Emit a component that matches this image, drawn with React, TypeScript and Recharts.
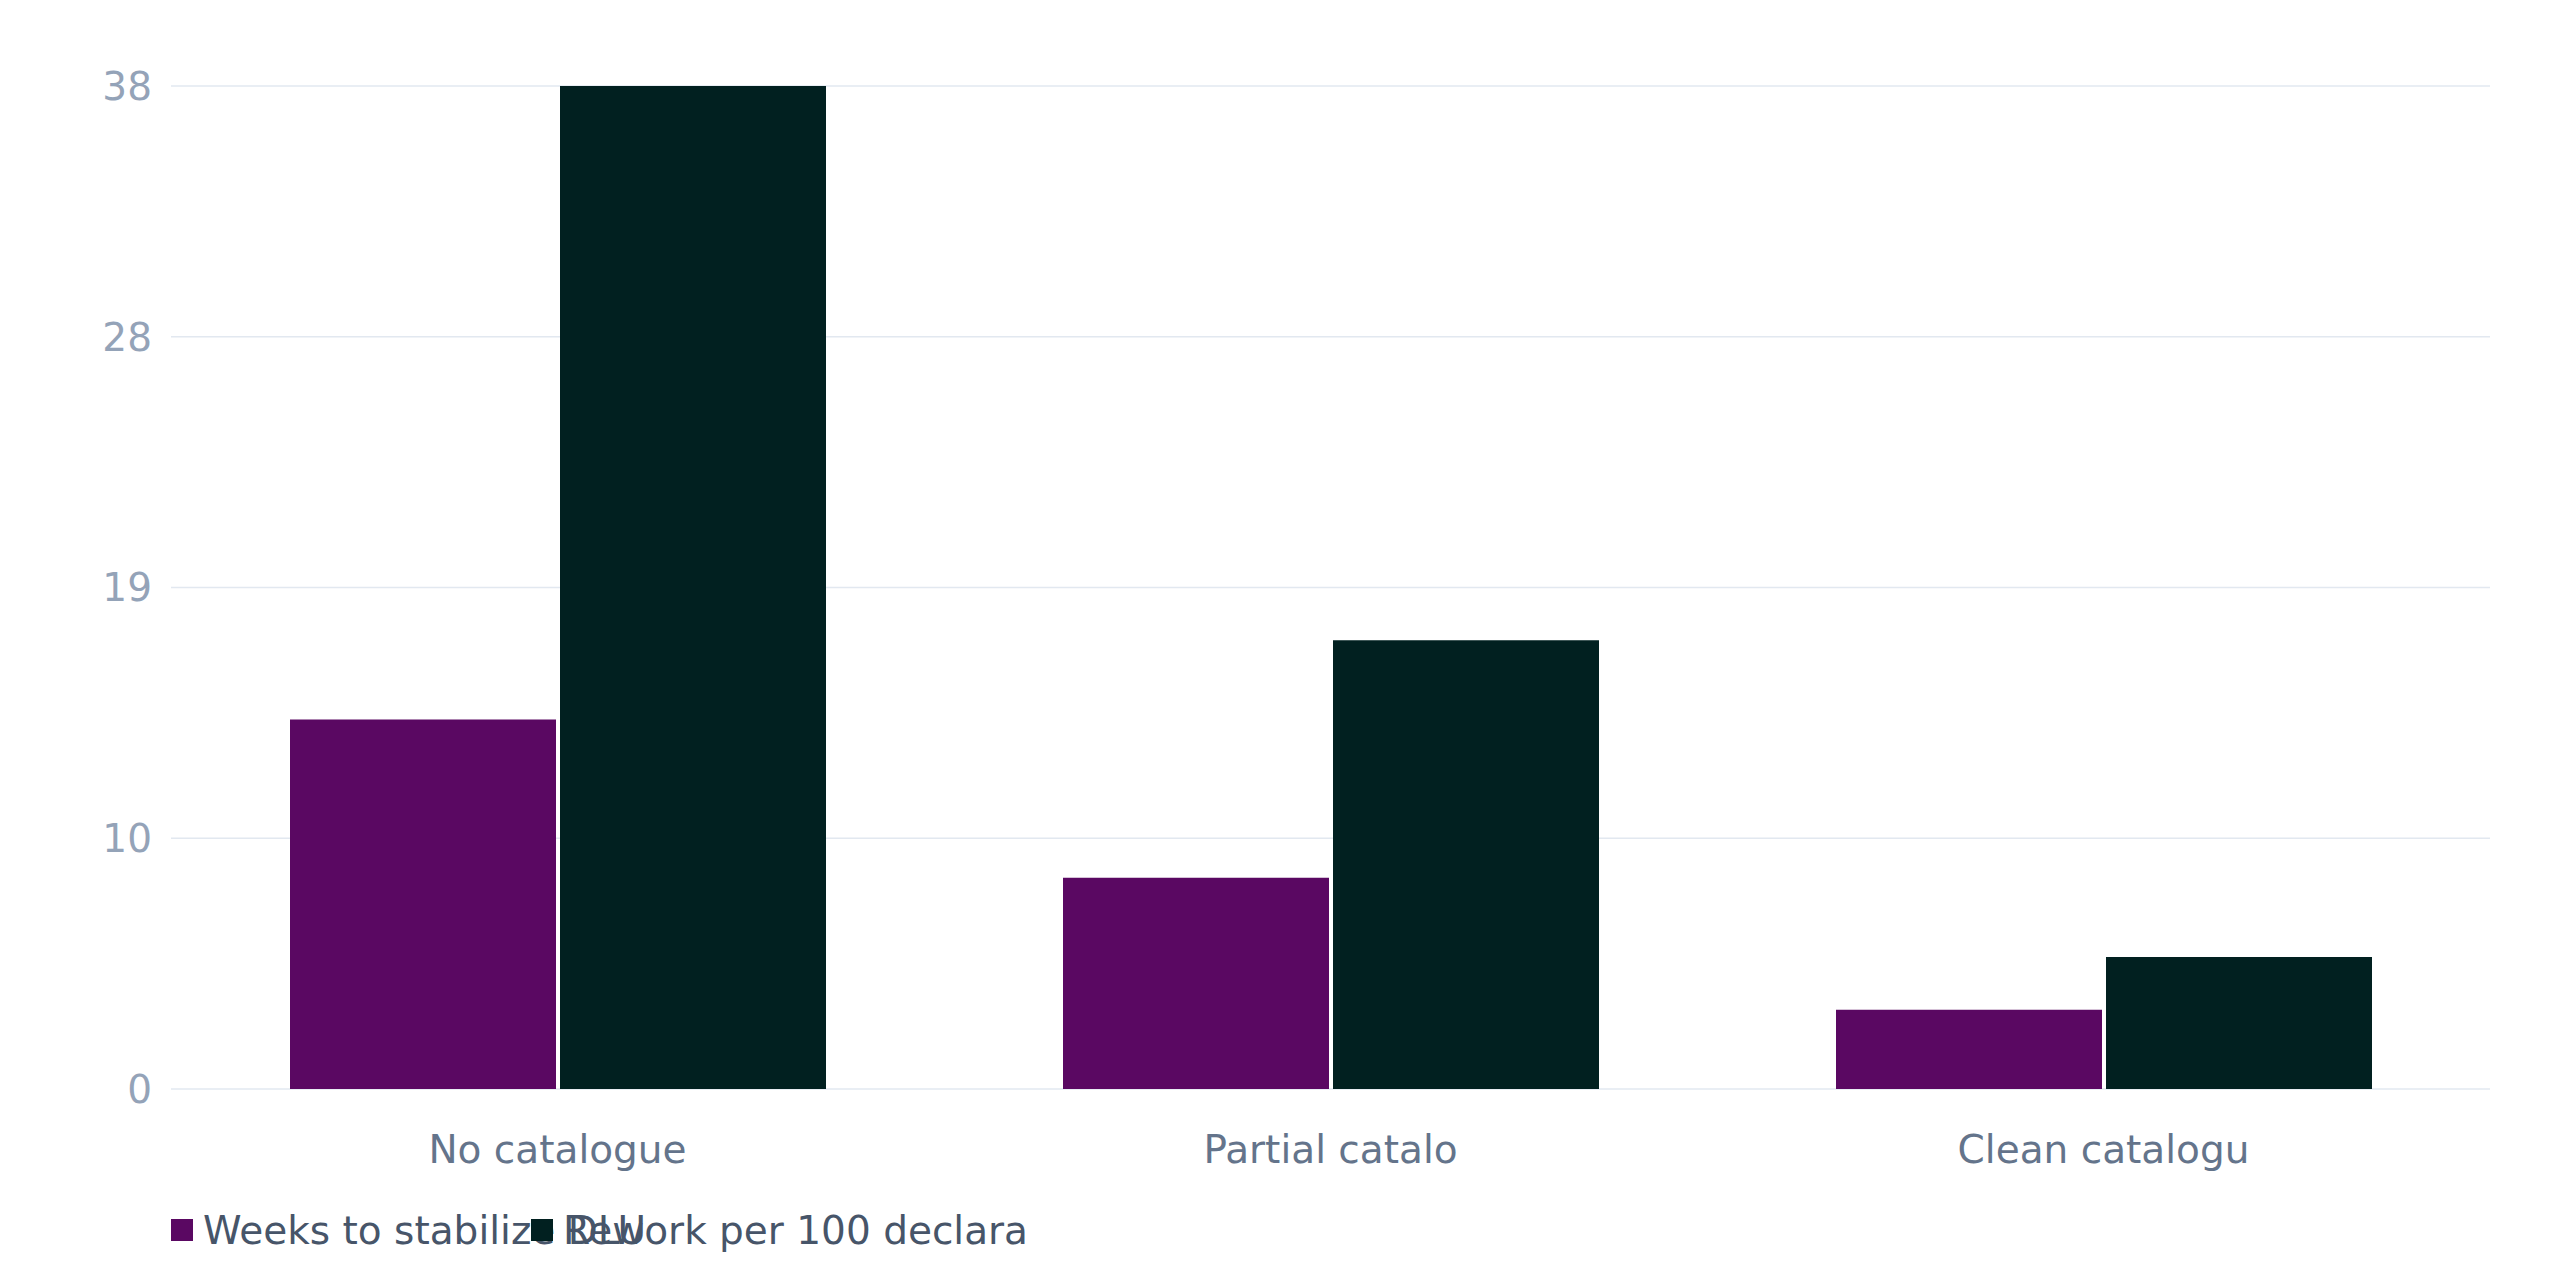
import { BarChart, Bar, XAxis, YAxis, CartesianGrid, Legend } from "recharts";

const categories = ["No catalogue", "Partial catalo", "Clean catalogu"];
const weeksToStabilize = [14, 8, 3];
const reworkPer100 = [38, 17, 5];
const seriesNames = ["Weeks to stabilize DLU", "Rework per 100 declara"];
const seriesColors = ["#5a0862", "#012020"];
const yTicks = [0, 9.5, 19, 28.5, 38];
const yTickLabels = ["0", "10", "19", "28", "38"];

const data = categories.map((name, i) => ({
  name,
  weeks: weeksToStabilize[i],
  rework: reworkPer100[i],
}));

function renderLegend() {
  return (
    <div style={{ display: "flex", alignItems: "center", height: 44, paddingLeft: 163 }}>
      {seriesNames.map((label, i) => (
        <div
          key={label}
          style={{ width: 360, flexShrink: 0, display: "flex", alignItems: "center" }}
        >
          <span
            style={{
              width: 22,
              height: 22,
              background: seriesColors[i],
              marginRight: 10,
              flexShrink: 0,
            }}
          />
          <span style={{ fontSize: 39, color: "#475569", whiteSpace: "nowrap" }}>
            {label}
          </span>
        </div>
      ))}
    </div>
  );
}

export default function App() {
  return (
    <div style={{ fontFamily: "DejaVu Sans", background: "#fff" }}>
      <BarChart
        width={2544}
        height={1264}
        data={data}
        margin={{ top: 78, right: 62, bottom: 20, left: 43 }}
        barSize={266}
        barGap={4}
      >
        <CartesianGrid vertical={false} stroke="#e2e8f0" strokeWidth={1.5} />
        <XAxis
          dataKey="name"
          axisLine={false}
          tickLine={false}
          tickMargin={40}
          height={119}
          tick={{ fontSize: 39, fill: "#64748b" }}
        />
        <YAxis
          domain={[0, 38]}
          ticks={yTicks}
          width={120}
          axisLine={false}
          tickLine={false}
          tickMargin={13}
          tick={{ fontSize: 39, fill: "#94a3b8" }}
          tickFormatter={(v: number) => yTickLabels[yTicks.indexOf(v)] ?? String(v)}
        />
        <Legend
          verticalAlign="bottom"
          align="left"
          content={renderLegend}
          wrapperStyle={{ left: 0, width: 2544 }}
        />
        <Bar dataKey="weeks" name={seriesNames[0]} fill={seriesColors[0]} isAnimationActive={false} />
        <Bar dataKey="rework" name={seriesNames[1]} fill={seriesColors[1]} isAnimationActive={false} />
      </BarChart>
    </div>
  );
}
